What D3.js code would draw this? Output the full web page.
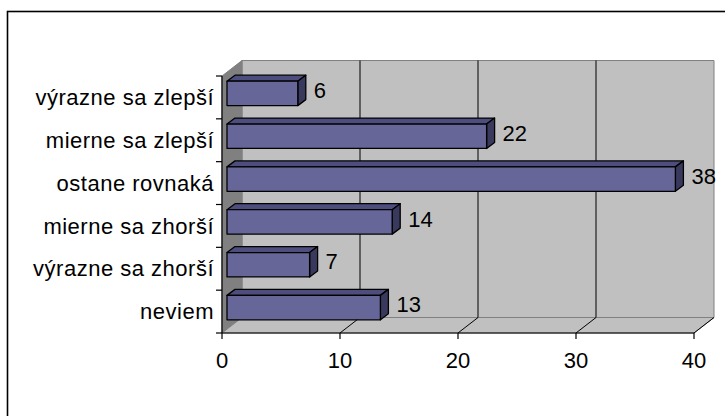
<!DOCTYPE html>
<html><head><meta charset="utf-8">
<script src="https://cdn.jsdelivr.net/npm/d3@7"></script>
<style>html,body{margin:0;padding:0;background:#fff;}svg{display:block;}</style>
</head><body>
<script>
const categories = ["výrazne sa zlepší","mierne sa zlepší","ostane rovnaká","mierne sa zhorší","výrazne sa zhorší","neviem"];
const values = [6,22,38,14,7,13];
const tickValues = [0,10,20,30,40];

const W = 725, H = 416;
const font = "'Liberation Sans', Arial, sans-serif";
const fs = 22;
const svg = d3.select("body").append("svg").attr("width", W).attr("height", H);

// outer frame
svg.append("rect").attr("x",7.5).attr("y",11.5).attr("width",740).attr("height",430)
  .attr("fill","#fff").attr("stroke","#000").attr("stroke-width",1.6);

const x = d3.scaleLinear().domain([0,40]).range([222,694]);
const yAxisBand = d3.scaleBand().domain(categories).range([76,333]).padding(0);
const yBar = d3.scaleBand().domain(categories).range([76,333]).paddingInner(0.43).paddingOuter(0.215);
const DX = 20, DY = -15.5;   // wall depth
const bx = 5, by = -4;       // bar front offset
const bdx = 8, bdy = -6;     // bar depth

const x0 = x(0), x1 = x(40), yT = 76, yB = 333;

// back wall
svg.append("polygon")
  .attr("points", [[x0+DX,yT+DY],[x1+DX,yT+DY],[x1+DX,yB+DY],[x0+DX,yB+DY]].join(" "))
  .attr("fill","#c0c0c0").attr("stroke","#808080").attr("stroke-width",1);
// left wall
svg.append("polygon")
  .attr("points", [[x0,yT],[x0+DX,yT+DY],[x0+DX,yB+DY],[x0,yB]].join(" "))
  .attr("fill","#808080").attr("stroke","#808080").attr("stroke-width",1);
// floor
svg.append("polygon")
  .attr("points", [[x0,yB],[x0+DX,yB+DY],[x1+DX,yB+DY],[x1,yB]].join(" "))
  .attr("fill","#c0c0c0").attr("stroke","#808080").attr("stroke-width",1);

// gridlines on back wall and floor
tickValues.filter(t => t>0 && t<40).forEach(t => {
  svg.append("line").attr("x1",x(t)+DX).attr("x2",x(t)+DX).attr("y1",yT+DY).attr("y2",yB+DY)
    .attr("stroke","#000").attr("stroke-width",1);
});
tickValues.filter(t => t>0).forEach(t => {
  svg.append("line").attr("x1",x(t)+DX).attr("y1",yB+DY).attr("x2",x(t)).attr("y2",yB)
    .attr("stroke","#000").attr("stroke-width",1);
});

// bars
categories.forEach((c,i) => {
  const v = values[i];
  const fx0 = x(0)+bx, fx1 = x(v)+bx;
  const fy0 = yBar(c)+by, fy1 = fy0 + yBar.bandwidth();
  const g = svg.append("g").attr("stroke","#000").attr("stroke-width",1.3).attr("stroke-linejoin","round");
  g.append("polygon").attr("points",[[fx0,fy0],[fx0+bdx,fy0+bdy],[fx1+bdx,fy0+bdy],[fx1,fy0]].join(" "))
    .attr("fill","#4d4d7e");
  g.append("polygon").attr("points",[[fx1,fy0],[fx1+bdx,fy0+bdy],[fx1+bdx,fy1+bdy],[fx1,fy1]].join(" "))
    .attr("fill","#39395e");
  g.append("rect").attr("x",fx0).attr("y",fy0).attr("width",fx1-fx0).attr("height",fy1-fy0)
    .attr("fill","#666699");
  svg.append("text").attr("x",fx1+bdx+8).attr("y",(fy0+fy1)/2+bdy/2).attr("dy","0.35em")
    .attr("font-family",font).attr("font-size",fs).attr("fill","#000").text(v);
});

// axes lines
svg.append("line").attr("x1",x0).attr("x2",x0).attr("y1",yT).attr("y2",yB).attr("stroke","#000").attr("stroke-width",1.2);
svg.append("line").attr("x1",x0).attr("x2",x1).attr("y1",yB).attr("y2",yB).attr("stroke","#000").attr("stroke-width",1.2);

// category ticks at band boundaries
const bounds = categories.map(c => yAxisBand(c)).concat([yB]);
bounds.forEach(yy => {
  svg.append("line").attr("x1",x0-6).attr("x2",x0).attr("y1",yy).attr("y2",yy).attr("stroke","#000").attr("stroke-width",1.2);
});
categories.forEach(c => {
  svg.append("text").attr("x",214).attr("y",yAxisBand(c)+yAxisBand.bandwidth()/2).attr("dy","0.35em")
    .attr("text-anchor","end").attr("font-family",font).attr("font-size",fs)
    .attr("letter-spacing","0.5px").attr("fill","#000").text(c);
});

// value axis ticks
tickValues.forEach(t => {
  svg.append("line").attr("x1",x(t)).attr("x2",x(t)).attr("y1",yB).attr("y2",yB+6).attr("stroke","#000").attr("stroke-width",1.2);
  svg.append("text").attr("x",x(t)).attr("y",360).attr("dy","0.35em").attr("text-anchor","middle")
    .attr("font-family",font).attr("font-size",fs).attr("fill","#000").text(t);
});
</script>
</body></html>
